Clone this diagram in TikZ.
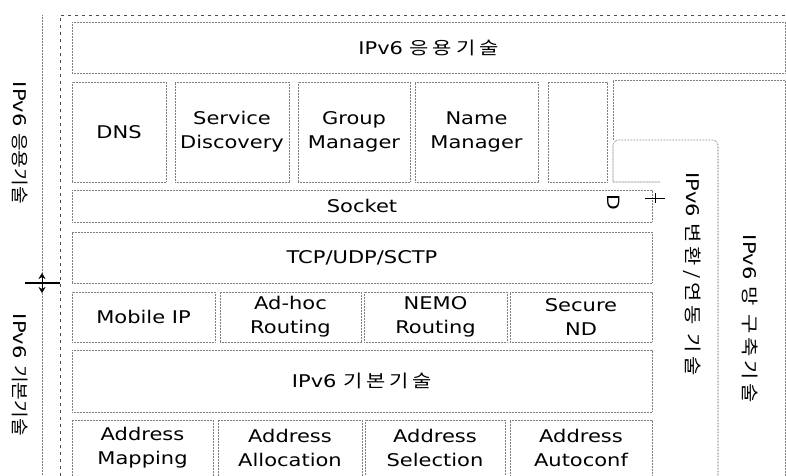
\documentclass[tikz,border=0pt]{standalone}
\usepackage{fontspec}
\setmainfont{DejaVu Sans}[FakeStretch=1.2]
\newfontfamily\kr{Noto Sans CJK KR}[FakeStretch=1.1]
\newfontfamily\krwide{Noto Sans CJK KR}[FakeStretch=1.2, LetterSpace=22]
\usetikzlibrary{positioning, arrows.meta}

\tikzset{
  cell/.style={draw=black!50, line width=0.6pt, dash pattern=on 0.6pt off 0.9pt,
    inner sep=0pt, align=center, font=\fontsize{17.5}{24}\selectfont},
  frame/.style={draw=black!50, line width=0.6pt, dash pattern=on 0.6pt off 0.9pt},
  sidelabel/.style={rotate=-90, inner sep=0pt, font=\fontsize{17.5}{20}\selectfont},
}

\begin{document}
\begin{tikzpicture}[x=1pt, y=-1pt]
    \useasboundingbox (0,0) rectangle (786,475);
    % outer frame and left divider
    \draw[black!70, line width=0.6pt, dash pattern=on 3pt off 4pt] (60,476) -- (60,15) -- (785,15);
    \draw[frame] (42,15) -- (42,476);
    \draw[line width=1.6pt] (25,283) -- (60,283);
    \draw[-{Stealth[length=6pt,width=7pt]}] (42,283) -- (42,273);
    \draw[-{Stealth[length=6pt,width=7pt]}] (42,283) -- (42,293);
    \node[sidelabel] (applab) at (20,143) {IPv6 {\kr 응용기술}};
    \node[sidelabel] (baselab) at (20,375) {IPv6 {\kr 기본기술}};

    % application layer
    \node[cell, minimum width=713pt, minimum height=51pt] (app) at (428.5,47.5) {IPv6 {\krwide 응용기술}};
    \node[cell, minimum width=94pt, minimum height=100pt] (dns) at (119,132) {DNS};
    \node[cell, minimum width=114pt, minimum height=100pt] (svcdisc) at (232,132) {Service\\Discovery};
    \node[cell, minimum width=112pt, minimum height=100pt] (grpmgr) at (354,132) {Group\\Manager};
    \node[cell, minimum width=123pt, minimum height=100pt] (namemgr) at (476.5,132) {Name\\Manager};
    \node[cell, minimum width=59pt, minimum height=100pt] (spare) at (577.5,132) {};
    \node[cell, minimum width=580pt, minimum height=32pt] (socket) at (362,206) {Socket};
    \node[cell, minimum width=580pt, minimum height=51pt] (transport) at (362,257.5) {TCP/UDP/SCTP};

    % base layer
    \node[cell, minimum width=143pt, minimum height=50pt] (mobileip) at (143.5,317) {Mobile IP};
    \node[cell, minimum width=141pt, minimum height=50pt] (adhoc) at (290.5,317) {Ad-hoc\\Routing};
    \node[cell, minimum width=143pt, minimum height=50pt] (nemo) at (435.5,317) {NEMO\\Routing};
    \node[cell, minimum width=142pt, minimum height=50pt] (securend) at (581,317) {Secure\\ND};
    \node[cell, minimum width=580pt, minimum height=62pt] (basic) at (362,381) {IPv6 {\krwide 기본기술}};
    \node[cell, minimum width=141pt, minimum height=56pt] (addrmap) at (142.5,448) {Address\\Mapping};
    \node[cell, minimum width=144pt, minimum height=56pt] (addralloc) at (290,448) {Address\\Allocation};
    \node[cell, minimum width=140pt, minimum height=56pt] (addrsel) at (435,448) {Address\\Selection};
    \node[cell, minimum width=142pt, minimum height=56pt] (addrauto) at (581,448) {Address\\Autoconf};

    % transition and network regions
    \draw[frame] (613,140) -- (613,80) -- (785,80) -- (785,476);
    \draw[frame, draw=black!70] (660,182) -- (613,182) [rounded corners=5pt] -- (613,140) -- (718,140) [sharp corners] -- (718,476);
    \draw (645,198) -- (665,198);
    \draw (655,193) -- (655,203);
    \node[sidelabel, font=\fontsize{17}{17}\selectfont] (mark) at (614,202) {D};
    \node[sidelabel] (translab) at (692,274) {IPv6 {\krwide 변환/연동 기술}};
    \node[sidelabel] (netlab) at (750,319) {IPv6 {\krwide 망 구축기술}};
\end{tikzpicture}
\end{document}
